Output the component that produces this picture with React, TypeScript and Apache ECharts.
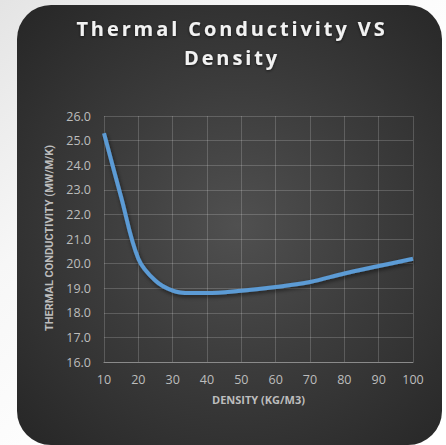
import React, { useEffect, useRef } from "react";
import * as echarts from "echarts";

const densities = [10, 15, 20, 25, 30, 35, 40, 50, 60, 70, 80, 90, 100];
const conductivity = [25.3, 22.7, 20.2, 19.3, 18.9, 18.8, 18.8, 18.9, 19.05, 19.25, 19.6, 19.9, 20.2];
const titleLines = ["Thermal Conductivity VS", "Density"];
const xName = "DENSITY (KG/M3)";
const yName = "THERMAL CONDUCTIVITY (MW/M/K)";

export default function App() {
  const ref = useRef<HTMLDivElement>(null);
  useEffect(() => {
    if (!ref.current) return;
    const el = ref.current;
    const chart = echarts.init(el, undefined, { renderer: "svg" });
    const labelColor = "#bdbdbd";
    const spaceTitle = () => {
      el.querySelectorAll("text").forEach((t) => {
        if (titleLines.includes((t.textContent || "").trim())) {
          (t as SVGTextElement).style.letterSpacing = "2.9px";
        }
      });
    };
    chart.on("finished", spaceTitle);
    chart.setOption({
      animation: false,
      backgroundColor: "transparent",
      title: {
        text: titleLines.join("\n"),
        left: 227,
        top: 9,
        textAlign: "center",
        textStyle: {
          color: "#f2f2f2",
          fontFamily: "Open Sans",
          fontWeight: "bold",
          fontSize: 20,
          lineHeight: 29,
          textShadowColor: "rgba(0,0,0,0.6)",
          textShadowBlur: 3,
          textShadowOffsetY: 1,
        },
      },
      grid: { left: 104, right: 33, top: 116, bottom: 83 },
      xAxis: {
        type: "value",
        min: 10,
        max: 100,
        interval: 10,
        name: xName,
        nameLocation: "middle",
        nameGap: 32,
        nameTextStyle: { color: labelColor, fontFamily: "Open Sans", fontWeight: "bold", fontSize: 11 },
        axisLine: { lineStyle: { color: "#8a8a8a", width: 1 } },
        axisTick: { show: false },
        axisLabel: { color: labelColor, fontFamily: "Open Sans", fontSize: 12.5, margin: 11 },
        splitLine: { show: true, lineStyle: { color: "rgba(255,255,255,0.18)", width: 1 } },
      },
      yAxis: {
        type: "value",
        min: 16,
        max: 26,
        interval: 1,
        name: yName,
        nameLocation: "middle",
        nameGap: 45,
        nameTextStyle: {
          color: labelColor,
          fontFamily: "Liberation Sans Narrow, Roboto, sans-serif",
          fontWeight: "bold",
          fontSize: 11,
          padding: [0, 0, 0, 2],
        },
        axisLine: { show: false },
        axisTick: { show: false },
        axisLabel: {
          color: labelColor,
          fontFamily: "Open Sans",
          fontSize: 12.5,
          margin: 13,
          formatter: (v: number) => v.toFixed(1),
        },
        splitLine: { show: true, lineStyle: { color: "rgba(255,255,255,0.18)", width: 1 } },
      },
      series: [
        {
          type: "line",
          data: densities.map((d, i) => [d, conductivity[i]]),
          smooth: 0.35,
          showSymbol: false,
          lineStyle: {
            color: "#5b9bd5",
            width: 4,
            shadowColor: "rgba(0,0,0,0.55)",
            shadowBlur: 4,
            shadowOffsetY: 2,
            shadowOffsetX: 1,
          },
        },
      ],
    });
    spaceTitle();
    return () => chart.dispose();
  }, []);

  return (
    <div
      style={{
        position: "fixed",
        left: 0,
        top: 0,
        width: 446,
        height: 445,
        overflow: "hidden",
        background: "linear-gradient(135deg, #e4e4e4 0%, #f7f7f7 30%, #ffffff 60%)",
      }}
    >
      <div
        style={{
          position: "absolute",
          left: 17,
          top: 5,
          width: 425,
          height: 440,
          borderRadius: 34,
          background: "radial-gradient(ellipse at 52% 50%, #505050 0%, #3c3c3c 45%, #262626 100%)",
        }}
      />
      <div ref={ref} style={{ position: "absolute", left: 0, top: 0, width: 446, height: 445 }} />
    </div>
  );
}
